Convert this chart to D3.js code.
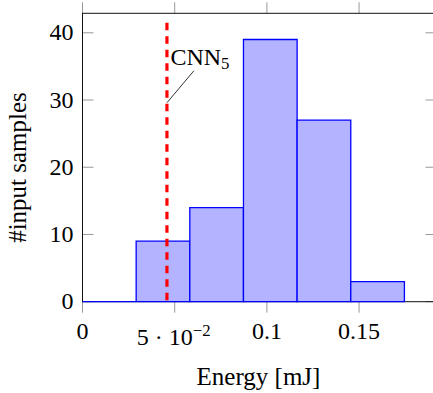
<!DOCTYPE html>
<html><head><meta charset="utf-8">
<script src="https://cdn.jsdelivr.net/npm/d3@7"></script>
<style>
html,body{margin:0;padding:0;background:#fff;}
svg{display:block;}
text{font-family:"Liberation Serif","Times New Roman",serif;fill:#000;}
</style></head>
<body>
<script>
// ---- data ----
const binEdges = [0, 0.0291, 0.0582, 0.0873, 0.1164, 0.1455, 0.1746];
const counts = [0, 9, 14, 39, 27, 3];
const xTicks = [0, 0.05, 0.1, 0.15];
const yTicks = [0, 10, 20, 30, 40];
const cnnValue = 0.0458;
const cnnLabel = "CNN";
const cnnSub = "5";
const cnnPinY = 29.6;
const xLabel = "Energy [mJ]";
const yLabel = "#input samples";

const W = 433, H = 393;
const svg = d3.select("body").append("svg").attr("width", W).attr("height", H);

const x = d3.scaleLinear().domain([0, 0.192]).range([82.5, 436.5]);
const y = d3.scaleLinear().domain([0, 42.9]).range([301.7, 13.3]);
const FS = 24;

// tick marks
const tickCol = "#999";
const xt = svg.append("g");
xTicks.forEach(t => {
  xt.append("line").attr("x1", x(t)).attr("x2", x(t)).attr("y1", y.range()[0]).attr("y2", y.range()[0] + 11)
    .attr("stroke", tickCol).attr("stroke-width", 1);
  xt.append("line").attr("x1", x(t)).attr("x2", x(t)).attr("y1", y.range()[1]).attr("y2", y.range()[1] - 11)
    .attr("stroke", tickCol).attr("stroke-width", 1);
});
yTicks.forEach(t => {
  xt.append("line").attr("x1", x.range()[0]).attr("x2", x.range()[0] + 11).attr("y1", y(t)).attr("y2", y(t))
    .attr("stroke", tickCol).attr("stroke-width", 1);
  xt.append("line").attr("x1", x.range()[1]).attr("x2", x.range()[1] - 11).attr("y1", y(t)).attr("y2", y(t))
    .attr("stroke", tickCol).attr("stroke-width", 1);
});

// axis frame
const [x0, x1] = x.range(), [y0, y1] = y.range();
svg.append("rect").attr("x", x0).attr("y", y1).attr("width", x1 - x0).attr("height", y0 - y1)
  .attr("fill", "none").attr("stroke", "#111").attr("stroke-width", 1);

// bars
const bins = counts.map((c, i) => ({ a: binEdges[i], b: binEdges[i + 1], c }));
svg.append("g").selectAll("path").data(bins).join("path")
  .attr("d", d => `M${x(d.a)},${y(0)}L${x(d.a)},${y(d.c)}L${x(d.b)},${y(d.c)}L${x(d.b)},${y(0)}Z`)
  .attr("fill", "#b3b3ff").attr("stroke", "#0000ff").attr("stroke-width", 1.3);

// red dashed line
svg.append("line").attr("x1", x(cnnValue)).attr("x2", x(cnnValue))
  .attr("y1", y(41.5)).attr("y2", y(0))
  .attr("stroke", "#ff0000").attr("stroke-width", 3.2).attr("stroke-dasharray", "7.5,6");

// pin + label
const px = x(cnnValue), py = y(cnnPinY);
svg.append("line").attr("x1", px).attr("y1", py).attr("x2", px + 27).attr("y2", py - 32)
  .attr("stroke", "#000").attr("stroke-width", 0.8);
const lt = svg.append("text").attr("x", px + 3.5).attr("y", py - 38).attr("font-size", FS);
lt.append("tspan").text(cnnLabel);
lt.append("tspan").attr("font-size", FS * 0.7).attr("dy", 4).text(cnnSub);

// x tick labels
xTicks.forEach(t => {
  if (t === 0.05) {
    const tx = svg.append("text").attr("x", x(t) - 1).attr("y", 345).attr("text-anchor", "middle").attr("font-size", FS);
    tx.append("tspan").text("5 · 10");
    tx.append("tspan").attr("font-size", FS * 0.7).attr("dy", -9).text("−2");
  } else {
    svg.append("text").attr("x", x(t)).attr("y", 338.5).attr("text-anchor", "middle").attr("font-size", FS)
      .text(d3.format("")(t));
  }
});
// y tick labels
yTicks.forEach(t => {
  svg.append("text").attr("x", 73.5).attr("y", y(t) + 7.5).attr("text-anchor", "end").attr("font-size", FS).text(t);
});

// axis labels
svg.append("text").attr("x", (x0 + x1) / 2 - 1).attr("y", 385).attr("text-anchor", "middle").attr("font-size", FS + 1).text(xLabel);
svg.append("text").attr("transform", `translate(26,${(y0 + y1) / 2 + 10}) rotate(-90)`)
  .attr("text-anchor", "middle").attr("font-size", FS + 1).text(yLabel);
</script>
</body></html>
